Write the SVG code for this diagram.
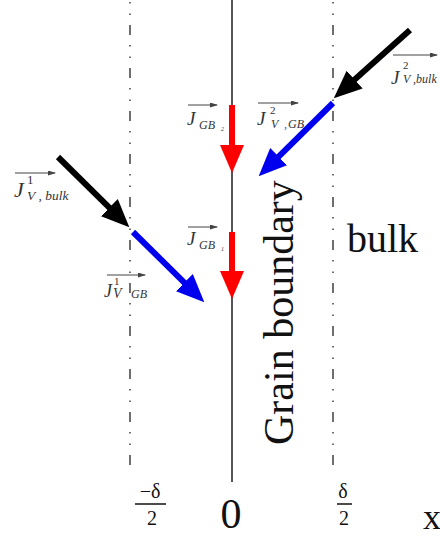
<svg xmlns="http://www.w3.org/2000/svg" width="440" height="538" viewBox="0 0 440 538">
<style>
.dd{stroke:#222;stroke-width:1.3;stroke-dasharray:10 10 1.5 10 1.5 10;stroke-dashoffset:18;fill:none}
.axis{stroke:#555;stroke-width:2;fill:none}
.big{stroke-width:6;fill:none}
.sm{stroke:#444;stroke-width:1;fill:none;marker-end:url(#sh)}
.lab{font-family:"Liberation Serif",serif;font-style:italic;fill:#333}
.up{font-style:normal}
.rm{font-family:"Liberation Serif",serif;fill:#111}
</style>
<defs>
<marker id="hk" markerUnits="userSpaceOnUse" markerWidth="28" markerHeight="24" viewBox="0 0 28 24" refX="1" refY="12" orient="auto"><path d="M0,0 L28,12 L0,24 z" fill="#000"/></marker>
<marker id="hb" markerUnits="userSpaceOnUse" markerWidth="28" markerHeight="24" viewBox="0 0 28 24" refX="1" refY="12" orient="auto"><path d="M0,0 L28,12 L0,24 z" fill="#0000ee"/></marker>
<marker id="hr" markerUnits="userSpaceOnUse" markerWidth="28" markerHeight="24" viewBox="0 0 28 24" refX="1" refY="12" orient="auto"><path d="M0,0 L28,12 L0,24 z" fill="#ff0000"/></marker>
<marker id="sh" markerUnits="userSpaceOnUse" markerWidth="8" markerHeight="5" viewBox="0 0 8 5" refX="7" refY="2.5" orient="auto"><path d="M0,0 L8,2.5 L0,5 z" fill="#444"/></marker>
</defs>
<g id="boundaries">
<line class="dd" x1="130" y1="0" x2="130" y2="472"/>
<line class="dd" x1="333" y1="0" x2="333" y2="472"/>
<line class="axis" x1="232" y1="0" x2="232" y2="482"/>
</g>
<g id="connectors">
<line class="big" stroke="#000" x1="58" y1="157" x2="110.1" y2="208.3" marker-end="url(#hk)"/>
<line class="big" stroke="#0000ee" x1="133" y1="232" x2="185.1" y2="283.3" marker-end="url(#hb)"/>
<line class="big" stroke="#000" x1="410" y1="30" x2="353.9" y2="80.3" marker-end="url(#hk)"/>
<line class="big" stroke="#0000ee" x1="333" y1="103" x2="277.9" y2="157.3" marker-end="url(#hb)"/>
<line class="big" stroke="#ff0000" x1="232" y1="105" x2="232" y2="146" marker-end="url(#hr)"/>
<line class="big" stroke="#ff0000" x1="232" y1="232" x2="232" y2="272" marker-end="url(#hr)"/>
</g>
<g id="label-JGB2">
<line class="sm" x1="188" y1="105" x2="217" y2="105"/>
<text class="lab"><tspan x="187" y="125" font-size="19">J</tspan><tspan x="199" y="129" font-size="12">GB</tspan><tspan x="221" y="131" font-size="6">2</tspan></text>
</g>
<g id="label-JGB1">
<line class="sm" x1="188" y1="227" x2="217" y2="227"/>
<text class="lab"><tspan x="187" y="245" font-size="19">J</tspan><tspan x="199" y="249" font-size="12">GB</tspan><tspan x="221" y="251" font-size="6">1</tspan></text>
</g>
<g id="label-JV2GB">
<line class="sm" x1="258" y1="103" x2="298" y2="103"/>
<text class="lab"><tspan x="257" y="125" font-size="19">J</tspan><tspan class="up" x="270" y="114" font-size="11">2</tspan><tspan x="271" y="128" font-size="12">V</tspan><tspan x="284" y="128" font-size="12" fill="#3355cc">,</tspan><tspan x="288" y="128" font-size="12">GB</tspan></text>
</g>
<g id="label-JV1bulk">
<line class="sm" x1="15" y1="173" x2="55" y2="173"/>
<text class="lab"><tspan x="14" y="197" font-size="22">J</tspan><tspan class="up" x="27" y="184" font-size="13">1</tspan><tspan x="27" y="200" font-size="13.5">V , bulk</tspan></text>
</g>
<g id="label-JV1GB">
<line class="sm" x1="107" y1="275" x2="145" y2="275"/>
<text class="lab"><tspan x="104" y="297" font-size="18">J</tspan><tspan class="up" x="114" y="285" font-size="11">1</tspan><tspan x="113" y="298" font-size="14">V</tspan><tspan x="131" y="298" font-size="12">GB</tspan></text>
</g>
<g id="label-JV2bulk">
<line class="sm" x1="393" y1="55" x2="437" y2="55"/>
<text class="lab"><tspan x="391" y="84" font-size="19">J</tspan><tspan class="up" x="403" y="69" font-size="11">2</tspan><tspan x="403" y="83" font-size="12">V ,bulk</tspan></text>
</g>
<g id="label-grain">
<text class="rm" font-size="42" transform="translate(293,445) rotate(-90)">Grain boundary</text>
</g>
<g id="label-bulk">
<text class="rm" x="347" y="252" font-size="40">bulk</text>
</g>
<g id="axis-labels">
<text class="rm" x="150" y="498" font-size="20" text-anchor="middle">−δ</text>
<line x1="135" y1="504" x2="166" y2="504" stroke="#111" stroke-width="1.5"/>
<text class="rm" x="152" y="525" font-size="20" text-anchor="middle">2</text>
<text class="rm" x="343" y="498" font-size="20" text-anchor="middle">δ</text>
<line x1="337" y1="504" x2="352" y2="504" stroke="#111" stroke-width="1.5"/>
<text class="rm" x="344" y="525" font-size="20" text-anchor="middle">2</text>
<text class="rm" x="231" y="528" font-size="42" text-anchor="middle">0</text>
<text class="rm" x="423" y="529" font-size="36">x</text>
</g>
</svg>
